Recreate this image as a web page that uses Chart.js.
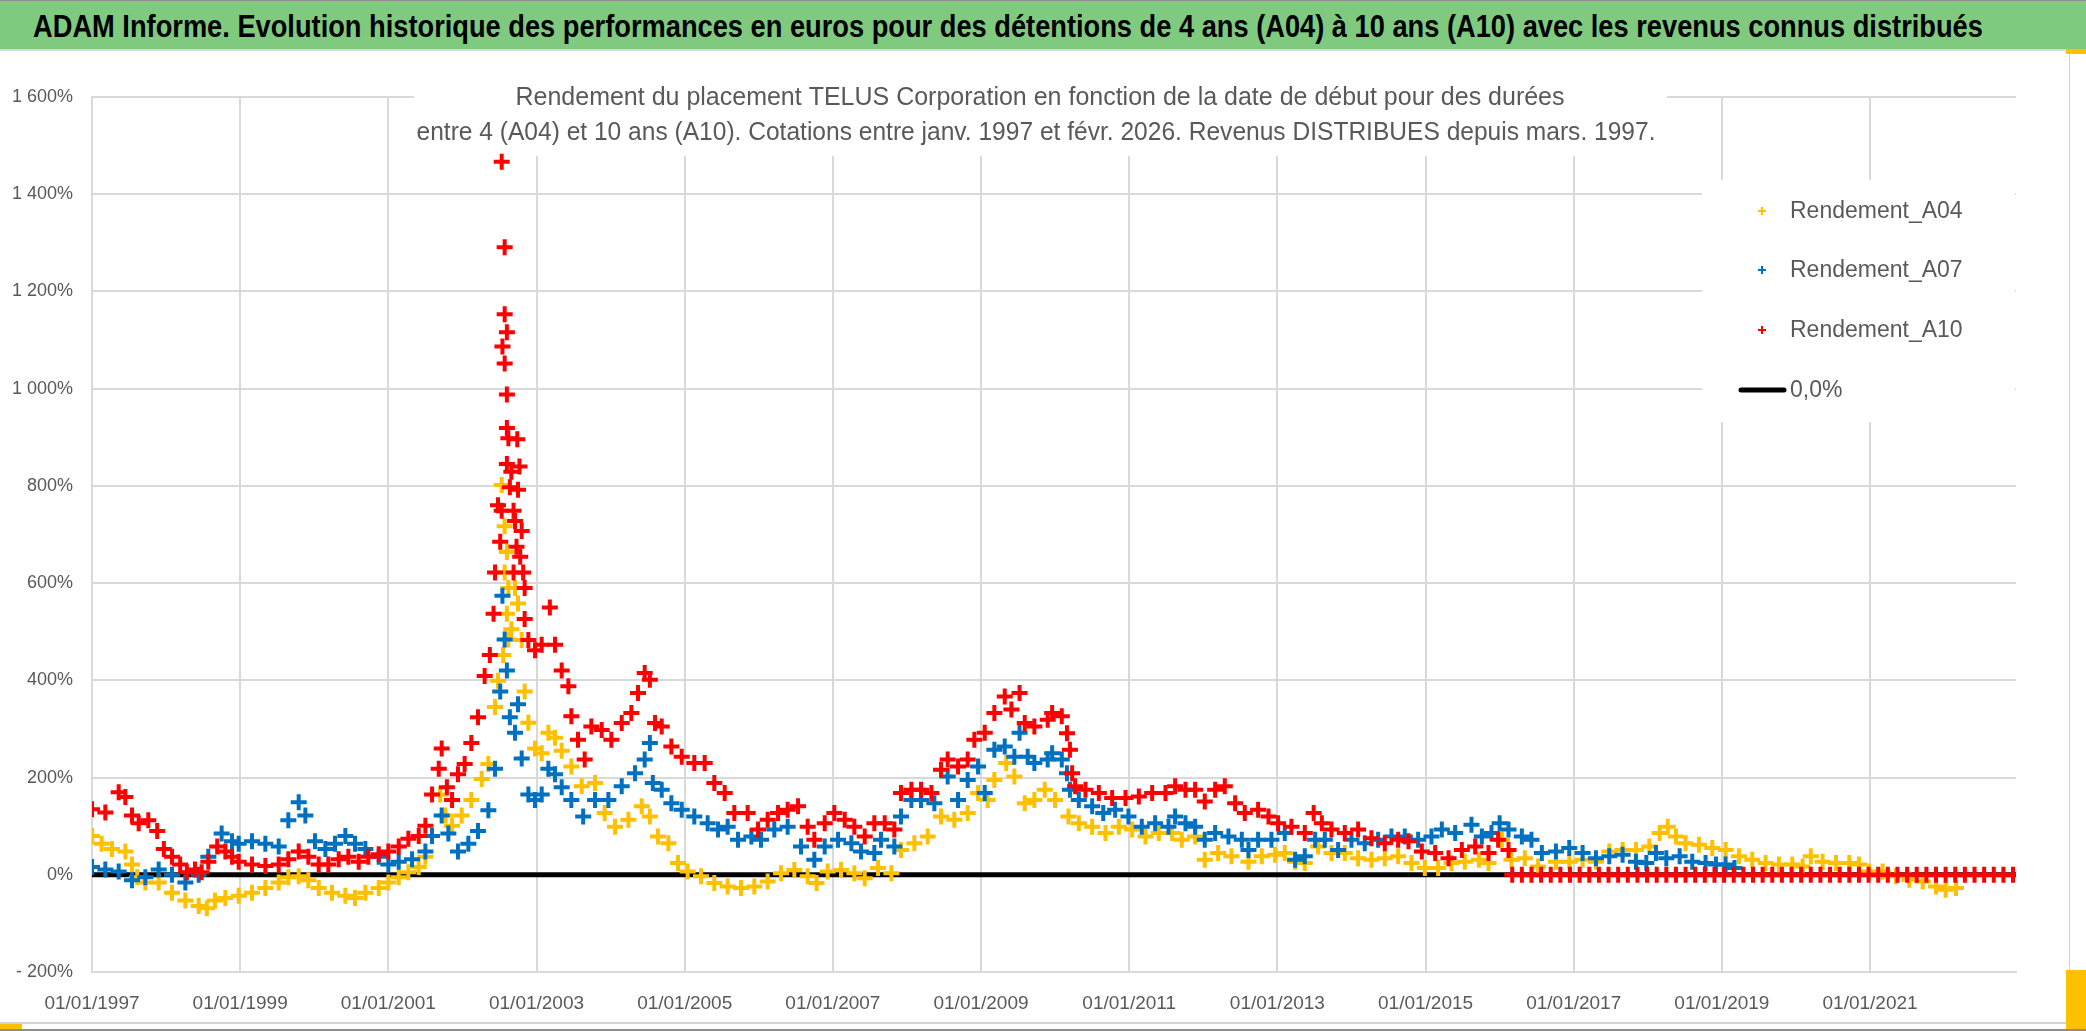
<!DOCTYPE html>
<html lang="fr">
<head>
<meta charset="utf-8">
<title>ADAM Informe - TELUS Corporation</title>
<script src="https://cdn.jsdelivr.net/npm/chart.js@4.4.1/dist/chart.umd.min.js"></script>
<style>
  html, body { margin: 0; padding: 0; background: #fff; }
  body { width: 2086px; height: 1031px; position: relative; overflow: hidden; }
  #wrap { position: absolute; left: 0; top: 0; width: 2086px; height: 1031px; }
  #header {
    position: absolute; left: 0; top: 0; width: 2086px; height: 51px;
    background: #7fca7f; border-top: 1px solid #8c8c8c; border-bottom: 2px solid #d9d9d9;
    box-sizing: border-box; overflow: hidden;
  }
  #header span {
    position: absolute; left: 1008px; top: 25px; white-space: nowrap;
    font: bold 31px/31px "Liberation Sans", Arial, sans-serif;
    color: #000; transform-origin: center center;
    transform: translate(-50%, -50%);
  }
  .frame { position: absolute; background: #d4d4d4; }
  .handle { position: absolute; background: #ffc000; }
</style>
</head>
<body>
<div id="wrap"><canvas id="chart" width="2086" height="1031"></canvas></div>
<div id="header"><span id="headerText">ADAM Informe. Evolution historique des performances en euros pour des détentions de 4 ans (A04) à 10 ans (A10) avec les revenus connus distribués</span></div>
<div class="frame" style="left:2069px;top:51px;width:1px;height:972px"></div>
<div class="frame" style="left:0;top:1022px;width:2070px;height:2px"></div>
<div class="frame" style="left:0;top:1029px;width:2086px;height:2px;background:#8c8c8c"></div>
<div class="handle" style="left:0;top:1024px;width:22px;height:5px"></div>
<div class="handle" style="left:2066px;top:970px;width:20px;height:59px"></div>
<div class="handle" style="left:2066px;top:49px;width:20px;height:5px"></div>
<script>
// ---- data (x = date as decimal year, y = return in %) ----
const tickYears = [1997, 1999, 2001, 2003, 2005, 2007, 2009, 2011, 2013, 2015, 2017, 2019, 2021];

const subtitleLines = [
  "Rendement du placement TELUS Corporation en fonction de la date de début pour des durées",
  "entre 4 (A04) et 10 ans (A10). Cotations entre janv. 1997 et févr. 2026. Revenus DISTRIBUES depuis mars. 1997."
];

const a04Years = [1997.00,1997.13,1997.27,1997.45,1997.54,1997.61,1997.72,1997.90,1998.08,1998.26,1998.44,1998.55,1998.66,1998.80,1998.98,
  1999.16,1999.34,1999.52,1999.65,1999.79,1999.92,2000.06,2000.24,2000.42,2000.55,2000.69,2000.87,2001.00,2001.14,2001.27,2001.41,2001.50,
  2001.59,2001.70,2001.77,2001.86,2001.99,2002.12,2002.26,2002.35,2002.44,2002.48,2002.53,2002.55,2002.57,2002.57,2002.60,2002.60,2002.62,
  2002.62,2002.66,2002.71,2002.75,2002.80,2002.84,2002.89,2002.98,2003.07,2003.16,2003.25,2003.34,2003.47,2003.61,2003.79,2003.92,2004.06,
  2004.24,2004.42,2004.53,2004.64,2004.78,2004.91,2005.04,2005.22,2005.40,2005.58,2005.76,2005.94,2006.12,2006.30,2006.48,2006.66,2006.78,
  2006.93,2007.11,2007.29,2007.43,2007.61,2007.79,2007.92,2008.10,2008.28,2008.46,2008.64,2008.82,2008.96,2009.09,2009.18,2009.34,2009.45,
  2009.59,2009.72,2009.86,2010.00,2010.18,2010.32,2010.50,2010.68,2010.86,2011.04,2011.22,2011.40,2011.58,2011.71,2011.89,2012.02,2012.20,
  2012.38,2012.61,2012.79,2012.97,2013.10,2013.24,2013.37,2013.55,2013.73,2013.91,2014.09,2014.27,2014.45,2014.63,2014.81,2014.99,2015.17,
  2015.35,2015.53,2015.72,2015.85,2016.03,2016.16,2016.34,2016.52,2016.76,2016.94,2017.12,2017.30,2017.48,2017.66,2017.84,2018.02,2018.16,
  2018.27,2018.38,2018.51,2018.69,2018.87,2019.05,2019.23,2019.41,2019.59,2019.77,2019.95,2020.09,2020.20,2020.36,2020.54,2020.72,2020.85,
  2020.99,2021.17,2021.35,2021.53,2021.71,2021.89,2022.02,2022.16];
const a04Values = [80,64,53,48,21,-5,-16,-16,-37,-53,-64,-69,-53,-48,-43,
  -37,-27,-16,-5,-3,-11,-27,-37,-43,-48,-37,-27,-16,-5,5,16,37,
  80,165,122,101,122,154,197,228,345,399,802,452,717,622,664,537,590,
  484,505,590,558,483,377,313,260,250,292,282,255,223,182,189,127,99,
  113,141,120,79,65,24,7,-3,-17,-24,-27,-24,-14,3,10,-3,-17,
  7,10,3,-7,14,3,51,65,79,120,113,127,168,154,195,230,202,
  147,154,175,154,120,106,99,86,99,93,79,86,86,72,79,31,45,
  38,27,38,41,45,27,24,58,45,45,34,31,34,38,24,14,14,
  24,27,31,24,72,31,34,17,27,27,31,27,48,51,51,58,86,
  99,79,65,62,55,51,38,31,24,21,21,17,38,27,24,24,21,
  7,7,-3,-10,-14,-24,-31,-27];

const a07Years = [1997.00,1997.18,1997.36,1997.54,1997.72,1997.90,1998.08,1998.26,1998.44,1998.57,1998.75,1998.89,1998.98,1999.16,1999.34,
  1999.52,1999.65,1999.79,1999.88,2000.01,2000.15,2000.28,2000.42,2000.55,2000.69,2000.87,2001.00,2001.14,2001.32,2001.50,2001.59,2001.72,
  2001.81,2001.94,2002.08,2002.21,2002.35,2002.44,2002.51,2002.54,2002.57,2002.60,2002.64,2002.71,2002.75,2002.80,2002.89,2002.98,2003.07,
  2003.16,2003.25,2003.34,2003.47,2003.63,2003.79,2003.97,2004.15,2004.33,2004.46,2004.53,2004.57,2004.69,2004.82,2004.96,2005.13,2005.31,
  2005.45,2005.58,2005.72,2005.90,2006.03,2006.21,2006.39,2006.57,2006.75,2006.89,2007.07,2007.25,2007.38,2007.56,2007.65,2007.83,2007.92,
  2008.06,2008.19,2008.37,2008.55,2008.69,2008.82,2008.96,2009.05,2009.18,2009.32,2009.45,2009.52,2009.63,2009.72,2009.90,2009.96,2010.09,
  2010.16,2010.20,2010.32,2010.50,2010.65,2010.81,2010.99,2011.17,2011.35,2011.53,2011.62,2011.76,2011.89,2012.02,2012.16,2012.34,2012.52,
  2012.61,2012.74,2012.92,2013.10,2013.24,2013.37,2013.51,2013.64,2013.82,2014.00,2014.18,2014.36,2014.54,2014.72,2014.90,2015.08,2015.22,
  2015.40,2015.62,2015.76,2015.89,2016.00,2016.12,2016.30,2016.43,2016.57,2016.76,2016.94,2017.12,2017.30,2017.48,2017.66,2017.84,2017.98,
  2018.11,2018.25,2018.43,2018.60,2018.78,2018.92,2019.05,2019.17];
const a07Values = [16,11,7,-11,-5,11,0,-16,0,37,85,69,64,69,64,
  58,112,149,122,69,53,64,80,64,53,37,21,27,32,48,80,122,
  85,48,64,90,133,218,377,574,484,420,324,292,351,239,165,154,165,
  218,207,180,154,120,154,154,182,209,237,271,189,175,147,134,120,106,
  93,99,72,79,72,93,99,58,31,58,72,65,48,45,72,58,120,
  154,154,147,202,154,195,223,168,257,264,243,292,243,230,237,250,237,
  209,175,154,141,127,134,120,99,106,99,120,106,99,72,86,79,72,
  51,72,72,86,31,38,72,72,51,72,65,72,79,79,72,79,93,
  86,103,79,86,106,93,79,72,45,48,55,45,34,38,41,27,24,
  45,34,38,27,24,21,21,14];

const a10Years = [1997.00,1997.18,1997.36,1997.45,1997.54,1997.63,1997.76,1997.88,1997.97,1998.08,1998.19,1998.28,1998.39,1998.48,1998.57,
  1998.69,1998.80,1998.89,1998.98,1999.16,1999.34,1999.52,1999.65,1999.79,1999.92,2000.06,2000.19,2000.33,2000.46,2000.60,2000.73,2000.87,
  2001.00,2001.14,2001.27,2001.41,2001.50,2001.59,2001.68,2001.72,2001.79,2001.86,2001.94,2002.03,2002.12,2002.21,2002.30,2002.37,2002.42,
  2002.44,2002.48,2002.51,2002.53,2002.53,2002.54,2002.57,2002.57,2002.57,2002.60,2002.60,2002.60,2002.60,2002.62,2002.64,2002.66,2002.69,
  2002.69,2002.71,2002.73,2002.74,2002.75,2002.77,2002.78,2002.80,2002.82,2002.84,2002.84,2002.89,2002.98,2003.07,2003.18,2003.25,2003.34,
  2003.43,2003.47,2003.56,2003.65,2003.74,2003.88,2004.01,2004.15,2004.28,2004.37,2004.46,2004.53,2004.60,2004.69,2004.82,2004.96,2005.13,
  2005.27,2005.40,2005.54,2005.67,2005.85,2005.99,2006.12,2006.26,2006.39,2006.53,2006.66,2006.75,2006.89,2007.02,2007.16,2007.29,2007.43,
  2007.56,2007.70,2007.83,2007.92,2008.06,2008.19,2008.33,2008.46,2008.55,2008.69,2008.82,2008.91,2009.05,2009.18,2009.32,2009.41,2009.52,
  2009.59,2009.72,2009.90,2009.96,2010.09,2010.16,2010.20,2010.23,2010.27,2010.41,2010.59,2010.77,2010.95,2011.13,2011.31,2011.49,2011.62,
  2011.76,2011.89,2012.02,2012.16,2012.29,2012.43,2012.56,2012.74,2012.88,2013.01,2013.19,2013.37,2013.49,2013.60,2013.73,2013.91,2014.09,
  2014.27,2014.45,2014.63,2014.77,2014.95,2015.13,2015.31,2015.49,2015.67,2015.85,2015.98,2016.12,
  2016.17,2016.30,2016.43,2016.56,2016.69,2016.82,2016.95,2017.08,2017.21,2017.34,2017.47,2017.60,2017.73,2017.86,2017.99,2018.12,2018.25,
  2018.38,2018.51,2018.64,2018.77,2018.90,2019.03,2019.16,2019.29,2019.42,2019.55,2019.68,2019.81,2019.94,2020.07,2020.20,2020.33,2020.46,
  2020.59,2020.72,2020.85,2020.98,2021.11,2021.24,2021.37,2021.50,2021.63,2021.76,2021.89,2022.02,2022.15,2022.28,2022.41,2022.54,2022.67,
  2022.80,2022.93];
const a10Values = [135,128,170,160,122,106,112,90,53,37,21,5,11,5,27,
  58,48,37,27,21,18,21,32,48,37,21,21,32,37,27,37,42,
  48,58,74,80,101,165,218,260,180,154,207,228,271,324,409,452,537,
  622,760,685,749,1467,1087,1291,1153,1052,1116,988,919,845,898,797,829,749,
  622,728,675,896,792,840,654,707,622,590,526,483,462,473,550,473,420,
  388,326,278,237,305,298,278,312,333,374,415,401,312,305,264,243,230,
  230,189,168,127,127,93,113,127,134,141,99,72,106,127,113,99,79,
  106,106,93,168,175,175,168,216,237,223,237,278,292,333,367,340,374,
  312,305,319,333,326,291,257,209,182,175,168,158,158,161,168,168,182,
  175,175,151,175,182,147,127,134,120,106,99,86,127,106,93,86,93,
  75,65,72,69,48,45,34,51,58,45,72,51,
  0,0,0,0,0,0,0,0,0,0,0,0,0,0,0,0,0,
  0,0,0,0,0,0,0,0,0,0,0,0,0,0,0,0,0,
  0,0,0,0,0,0,0,0,0,0,0,0,0,0,0,0,0,
  0,0];

const zeroYears = [1997.0, 2022.97];
const zeroValues = [0, 0];

// ---- helpers ----
const toPoints = (xs, ys) => xs.map((x, i) => ({x, y: ys[i]}));

const fmtPct = v => {
  const a = Math.abs(v);
  const s = a >= 1000 ? Math.floor(a / 1000) + ' ' + String(a % 1000).padStart(3, '0') : String(a);
  return (v < 0 ? '- ' : '') + s + '%';
};

const drawFitted = (ctx, text, cx, cy, width) => {
  const w = ctx.measureText(text).width;
  ctx.save();
  ctx.translate(cx, cy);
  ctx.scale(width / w, 1);
  ctx.fillText(text, 0, 0);
  ctx.restore();
};

// header text squeezed to the width it has in the picture
const headerEl = document.getElementById('headerText');
headerEl.style.transform = `translate(-50%, -50%) scaleX(${1950 / headerEl.offsetWidth})`;

const GRID = '#d9d9d9';
const TEXT = '#595959';
const FONT = '"Liberation Sans", Arial, sans-serif';

const subtitlePlugin = {
  id: 'subtitleBox',
  beforeDatasetsDraw(chart) {
    const ctx = chart.ctx;
    ctx.save();
    ctx.fillStyle = '#ffffff';
    ctx.fillRect(414, 70, 1253, 86);
    ctx.fillStyle = TEXT;
    ctx.font = `25px ${FONT}`;
    ctx.textAlign = 'center';
    ctx.textBaseline = 'middle';
    drawFitted(ctx, subtitleLines[0], 1040, 98, 1049);
    drawFitted(ctx, subtitleLines[1], 1036, 133, 1239);
    ctx.restore();
  }
};

const legendPlugin = {
  id: 'boxLegend',
  afterDatasetsDraw(chart) {
    const ctx = chart.ctx;
    const rows = [211, 270, 330, 390];
    ctx.save();
    ctx.fillStyle = '#ffffff';
    ctx.fillRect(1702, 180, 313, 242);
    ctx.font = `23px ${FONT}`;
    ctx.textBaseline = 'middle';
    ctx.textAlign = 'left';
    chart.data.datasets.forEach((ds, i) => {
      const y = rows[i];
      ctx.strokeStyle = ds.borderColor;
      if (ds.showLine) {
        ctx.lineWidth = 5;
        ctx.lineCap = 'round';
        ctx.beginPath();
        ctx.moveTo(1741, y);
        ctx.lineTo(1784, y);
        ctx.stroke();
      } else {
        ctx.lineWidth = 2;
        ctx.lineCap = 'butt';
        ctx.beginPath();
        ctx.moveTo(1758, y); ctx.lineTo(1766, y);
        ctx.moveTo(1762, y - 4); ctx.lineTo(1762, y + 4);
        ctx.stroke();
      }
      ctx.fillStyle = TEXT;
      ctx.fillText(ds.label, 1790, y + 1);
    });
    ctx.restore();
  }
};

const crossSeries = (label, color, points, order) => ({
  label,
  data: points,
  borderColor: color,
  backgroundColor: color,
  pointStyle: 'cross',
  pointRadius: 8,
  pointBorderWidth: 4,
  pointHoverRadius: 8,
  showLine: false,
  order
});

new Chart(document.getElementById('chart'), {
  type: 'scatter',
  data: {
    datasets: [
      crossSeries('Rendement_A04', '#ffc000', toPoints(a04Years, a04Values), 3),
      crossSeries('Rendement_A07', '#0070c0', toPoints(a07Years, a07Values), 2),
      crossSeries('Rendement_A10', '#ff0000', toPoints(a10Years, a10Values), 1),
      {
        type: 'line',
        label: '0,0%',
        data: toPoints(zeroYears, zeroValues),
        borderColor: '#000000',
        backgroundColor: '#000000',
        borderWidth: 5,
        pointRadius: 0,
        showLine: true,
        order: 4
      }
    ]
  },
  options: {
    responsive: false,
    animation: false,
    events: [],
    layout: { padding: { top: 97, right: 70, left: 0, bottom: 0 } },
    plugins: { legend: { display: false }, title: { display: false }, tooltip: { enabled: false } },
    scales: {
      x: {
        type: 'linear',
        min: 1997,
        max: 2022.97,
        afterBuildTicks: scale => { scale.ticks = tickYears.map(v => ({value: v})); },
        afterFit: scale => { scale.height = 59; },
        grid: { color: GRID, lineWidth: 2, drawTicks: false },
        border: { color: GRID, width: 2 },
        ticks: {
          padding: 20,
          color: TEXT,
          font: { family: FONT, size: 19 },
          maxRotation: 0,
          autoSkip: false,
          callback: v => '01/01/' + v
        }
      },
      y: {
        min: -200,
        max: 1600,
        afterFit: scale => { scale.width = 92; },
        grid: { color: GRID, lineWidth: 2, drawTicks: false },
        border: { color: GRID, width: 2 },
        ticks: {
          stepSize: 200,
          padding: 19,
          color: TEXT,
          font: { family: FONT, size: 18 },
          callback: v => fmtPct(v)
        }
      }
    }
  },
  plugins: [subtitlePlugin, legendPlugin]
});
</script>
</body>
</html>
